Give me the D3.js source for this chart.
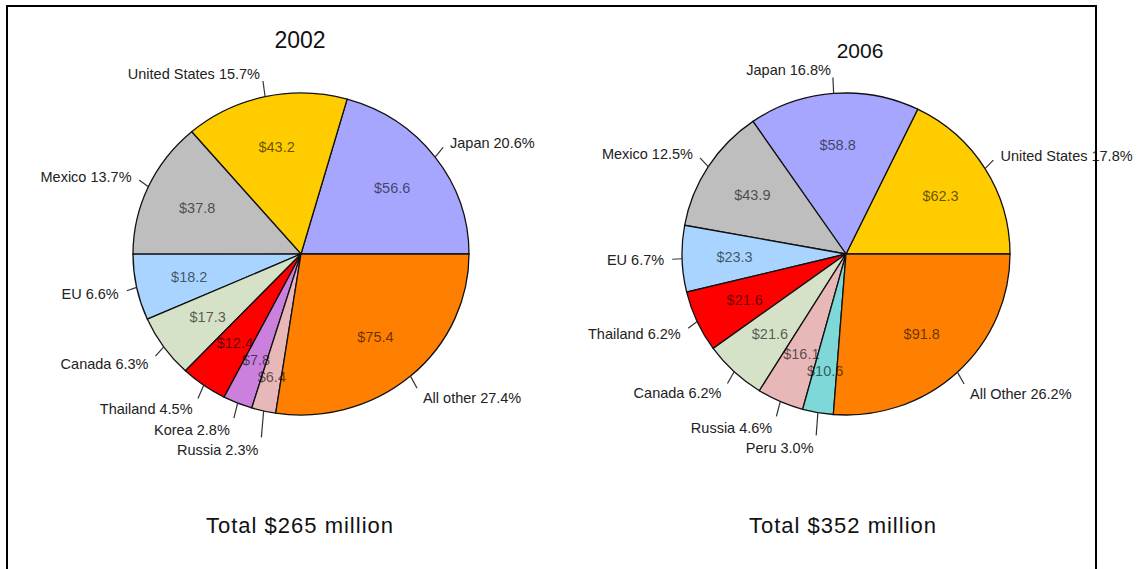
<!DOCTYPE html>
<html>
<head>
<meta charset="utf-8">
<script src="https://cdn.jsdelivr.net/npm/d3@7/dist/d3.min.js"></script>
<style>
  html, body { margin: 0; padding: 0; background: #fff; }
  svg { display: block; font-family: "Liberation Sans", Arial, Helvetica, sans-serif; }
</style>
</head>
<body>
<svg id="chart" width="1142" height="569"></svg>
<script>
// Export destinations, listed counter-clockwise from 3 o'clock
const names2002  = ["Japan", "United States", "Mexico", "EU", "Canada", "Thailand", "Korea", "Russia", "All other"];
const values2002 = [56.6, 43.2, 37.8, 18.2, 17.3, 12.4, 7.8, 6.4, 75.4];
const colors2002 = ["#a6a6ff", "#ffcc00", "#bebebe", "#a8d4ff", "#d6e2c8", "#ff0000", "#cc80dd", "#e8b8b8", "#ff8000"];

const names2006  = ["United States", "Japan", "Mexico", "EU", "Thailand", "Canada", "Russia", "Peru", "All Other"];
const values2006 = [62.3, 58.8, 43.9, 23.3, 21.6, 21.6, 16.1, 10.6, 91.8];
const colors2006 = ["#ffcc00", "#a6a6ff", "#bebebe", "#a8d4ff", "#ff0000", "#d6e2c8", "#e8b8b8", "#7fd8d8", "#ff8000"];

const years  = ["2002", "2006"];
const totals = ["Total $265 million", "Total $352 million"];

const svg = d3.select("#chart");

function drawPie(cfg) {
  const { names, values, colors, cx, cy, rx, ry, title, titleX, titleY, titleSize, total, totalX } = cfg;
  const data = names.map((n, i) => ({ name: n, value: values[i], color: colors[i] }));
  const sum = d3.sum(values);

  // Start at 3 o'clock and run counter-clockwise
  const pie = d3.pie().value(d => d.value).sort(null)
    .startAngle(Math.PI / 2).endAngle(Math.PI / 2 - 2 * Math.PI);
  const arcs = pie(data);
  const arc = d3.arc().innerRadius(0).outerRadius(rx);

  const g = svg.append("g");

  g.append("g")
    .attr("transform", `translate(${cx},${cy}) scale(1,${ry / rx})`)
    .selectAll("path")
    .data(arcs)
    .join("path")
    .attr("d", arc)
    .attr("fill", d => d.data.color)
    .attr("stroke", "#111")
    .attr("stroke-width", 1.3)
    .attr("vector-effect", "non-scaling-stroke");

  const at = (a, k) => [cx + rx * k * Math.sin(a), cy - ry * k * Math.cos(a)];

  // Values inside slices; a crowded label slides outward along its radius
  const vals = [];
  arcs.forEach(d => {
    const a = (d.startAngle + d.endAngle) / 2;
    const w = 34;
    let k = 0.68, p = at(a, k);
    const clash = q => vals.some(o => Math.abs(o.x - q[0]) < w && Math.abs(o.y - q[1]) < 16);
    while (clash(p) && k < 0.9) { k += 0.01; p = at(a, k); }
    vals.push({ x: p[0], y: p[1], text: "$" + d.data.value.toFixed(1) });
  });

  g.selectAll("text.val")
    .data(vals)
    .join("text")
    .attr("class", "val")
    .attr("x", d => d.x)
    .attr("y", d => d.y)
    .attr("dy", "0.35em")
    .attr("text-anchor", "middle")
    .attr("font-size", 14.5)
    .attr("fill", "#000")
    .attr("fill-opacity", 0.62)
    .text(d => d.text);

  // Outside labels with leader ticks, spread apart where they crowd
  const labels = arcs.map(d => {
    const a = (d.startAngle + d.endAngle) / 2;
    const up = Math.cos(a);
    const p = at(a, 1.1);
    const lift = up > 0 ? 7 : 13;
    return {
      a, up, lift,
      side: Math.sin(a) >= 0 ? 1 : -1,
      x: p[0],
      y: p[1] - lift * up,
      text: `${d.data.name} ${(d.data.value / sum * 100).toFixed(1)}%`
    };
  });
  [1, -1].forEach(side => {
    const group = labels.filter(l => l.side === side).sort((p, q) => p.y - q.y);
    for (let i = 1; i < group.length; i++) {
      if (group[i].y < group[i - 1].y + 20) group[i].y = group[i - 1].y + 20;
    }
  });

  g.selectAll("line.tick")
    .data(labels)
    .join("line")
    .attr("class", "tick")
    .attr("x1", d => at(d.a, 1.0)[0])
    .attr("y1", d => at(d.a, 1.0)[1])
    .attr("x2", d => at(d.a, 1.06)[0])
    .attr("y2", d => d.y + d.lift * d.up)
    .attr("stroke", "#333")
    .attr("stroke-width", 1.2);

  g.selectAll("text.lab")
    .data(labels)
    .join("text")
    .attr("class", "lab")
    .attr("x", d => d.x + d.side * 1.5)
    .attr("y", d => d.y)
    .attr("dy", "0.35em")
    .attr("text-anchor", d => d.side > 0 ? "start" : "end")
    .attr("font-size", 14.5)
    .attr("fill", "#222")
    .text(d => d.text);

  g.append("text")
    .attr("x", titleX).attr("y", titleY)
    .attr("text-anchor", "middle")
    .attr("font-size", titleSize)
    .attr("fill", "#111")
    .text(title);

  g.append("text")
    .attr("x", totalX).attr("y", 533)
    .attr("text-anchor", "middle")
    .attr("font-size", 22)
    .attr("letter-spacing", 1)
    .attr("fill", "#111")
    .text(total);
}

drawPie({ names: names2002, values: values2002, colors: colors2002,
  cx: 301, cy: 254, rx: 168, ry: 161,
  title: years[0], titleX: 300, titleY: 48, titleSize: 23,
  total: totals[0], totalX: 300 });

drawPie({ names: names2006, values: values2006, colors: colors2006,
  cx: 846, cy: 254, rx: 164, ry: 161,
  title: years[1], titleX: 860, titleY: 58, titleSize: 21,
  total: totals[1], totalX: 843 });

// Outer frame, open at the bottom edge
svg.append("rect")
  .attr("x", 7).attr("y", 6)
  .attr("width", 1089).attr("height", 600)
  .attr("fill", "none")
  .attr("stroke", "#000")
  .attr("stroke-width", 2);
</script>
</body>
</html>
